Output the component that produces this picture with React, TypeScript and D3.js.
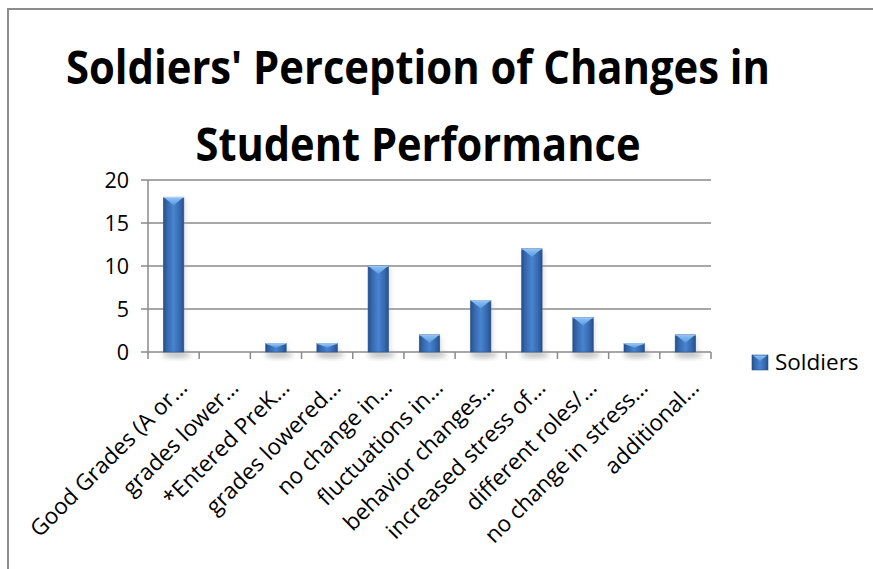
import React from "react";
import * as d3 from "d3";

const categories = [
  "Good Grades (A or…",
  "grades lower…",
  "*Entered PreK…",
  "grades lowered…",
  "no change in…",
  "fluctuations in…",
  "behavior changes…",
  "increased stress of…",
  "different roles/…",
  "no change in stress…",
  "additional…",
];
const soldiers = [18, 0, 1, 1, 10, 2, 6, 12, 4, 1, 2];
const yTicks = [0, 5, 10, 15, 20];
const seriesName = "Soldiers";
const titleLines = ["Soldiers' Perception of Changes in", "Student Performance"];
const titleWidths = [704, 445];

const W = 873;
const H = 569;
const plot = { left: 148, right: 711, top: 180, bottom: 352 };
const FONT = "Open Sans, 'Noto Sans', sans-serif";

export default function App() {
  const x = d3
    .scaleBand<string>()
    .domain(categories)
    .range([plot.left, plot.right])
    .padding(0);
  const y = d3.scaleLinear().domain([0, 20]).range([plot.bottom, plot.top]);
  const bw = x.bandwidth() * 0.4;
  const grid = "#8a8a8a";

  return (
    <svg
      width={W}
      height={H}
      style={{ position: "absolute", left: 0, top: 0, background: "#fff" }}
      fontFamily={FONT}
    >
      <defs>
        <linearGradient id="barGrad" x1="0" x2="1" y1="0" y2="0">
          <stop offset="0" stopColor="#244f8c" />
          <stop offset="0.18" stopColor="#3667ac" />
          <stop offset="0.5" stopColor="#4884d0" />
          <stop offset="0.82" stopColor="#3667ac" />
          <stop offset="1" stopColor="#244f8c" />
        </linearGradient>
        <linearGradient id="capGrad" x1="0" x2="0" y1="0" y2="1">
          <stop offset="0" stopColor="#8cc0f5" />
          <stop offset="1" stopColor="#5b9be0" />
        </linearGradient>
        <filter id="blur" x="-50%" y="-50%" width="200%" height="200%">
          <feGaussianBlur stdDeviation="2.5" />
        </filter>
      </defs>

      <rect x={8} y={9} width={W + 20} height={H + 20} fill="#fff" stroke="#8c8c8c" strokeWidth={2} />

      {titleLines.map((t, i) => (
        <text
          key={i}
          x={418}
          y={84 + i * 77}
          textAnchor="middle"
          fontSize={47}
          fontWeight={700}
          fill="#000"
          textLength={titleWidths[i]}
          lengthAdjust="spacingAndGlyphs"
        >
          {t}
        </text>
      ))}

      {/* gridlines */}
      {yTicks.map((v) => (
        <g key={v}>
          <line x1={plot.left - 7} x2={plot.right} y1={y(v)} y2={y(v)} stroke={grid} strokeWidth={1.5} />
          <text x={plot.left - 19} y={y(v)} dy="0.36em" textAnchor="end" fontSize={21.5} fill="#000">
            {v}
          </text>
        </g>
      ))}
      <line x1={plot.left} x2={plot.left} y1={plot.top} y2={plot.bottom} stroke={grid} strokeWidth={1.5} />
      {/* x ticks */}
      {[...categories.map((c) => x(c)!), plot.right].map((px, i) => (
        <line key={i} x1={px} x2={px} y1={plot.bottom} y2={plot.bottom + 7} stroke={grid} strokeWidth={1.5} />
      ))}

      {/* bars */}
      {categories.map((c, i) => {
        const v = soldiers[i];
        if (v <= 0) return null;
        const cx = x(c)! + x.bandwidth() / 2;
        const x0 = cx - bw / 2;
        const top = y(v);
        const h = plot.bottom - top;
        const capD = Math.min(8, h * 0.5);
        return (
          <g key={c}>
            <ellipse cx={cx + 3} cy={plot.bottom + 3} rx={bw * 0.7} ry={3} fill="#999" opacity={0.6} filter="url(#blur)" />
            <rect x={x0 + 2} y={top + 2} width={bw} height={h} fill="#aaa" opacity={0.35} filter="url(#blur)" />
            <rect x={x0} y={top} width={bw} height={h} fill="url(#barGrad)" stroke="#2a5590" strokeWidth={0.6} />
            <path
              d={`M${x0 + 1},${top + 0.5} L${x0 + bw - 1},${top + 0.5} L${cx},${top + capD} Z`}
              fill="url(#capGrad)"
            />
            <line x1={x0} x2={x0 + bw} y1={top + 0.3} y2={top + 0.3} stroke="#a9d1fa" strokeWidth={1} />
          </g>
        );
      })}

      {/* x labels */}
      {categories.map((c) => {
        const cx = x(c)! + x.bandwidth() / 2;
        const ax = cx + 15;
        const ay = plot.bottom + 37;
        return (
          <text
            key={c}
            x={ax}
            y={ay}
            textAnchor="end"
            fontSize={22.5}
            fill="#000"
            transform={`rotate(-45 ${ax} ${ay})`}
          >
            {c}
          </text>
        );
      })}

      {/* legend */}
      <rect x={752} y={355} width={16} height={15} fill="url(#barGrad)" stroke="#2a5590" strokeWidth={0.6} />
      <path d="M753,355.5 L767,355.5 L760,361 Z" fill="url(#capGrad)" />
      <text x={775} y={370} fontSize={22.5} fill="#000">
        {seriesName}
      </text>
    </svg>
  );
}
